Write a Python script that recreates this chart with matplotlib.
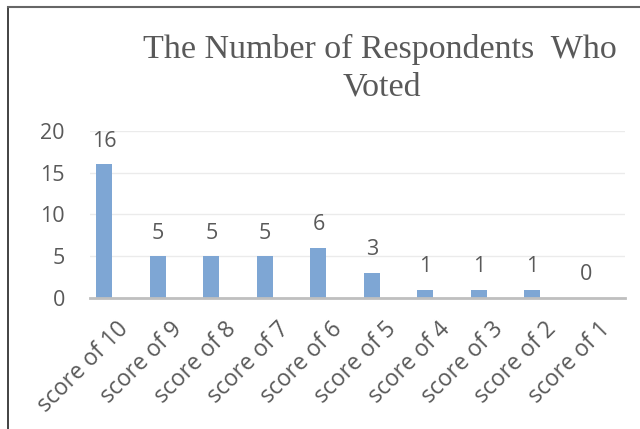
import matplotlib.pyplot as plt
import numpy as np

# votes per score
categories = ['score of 10', 'score of 9', 'score of 8', 'score of 7', 'score of 6',
              'score of 5', 'score of 4', 'score of 3', 'score of 2', 'score of 1']
votes = [16, 5, 5, 5, 6, 3, 1, 1, 1, 0]
y_ticks = [0, 5, 10, 15, 20]

text_gray = '#595959'
bar_color = '#7ea6d4'

fig = plt.figure(figsize=(6.4, 4.29), dpi=100)
ax = fig.add_axes([0.1406, 0.3054, 0.8359, 0.3892])

x = np.arange(len(categories))
# bars sit left of the category centre (clustered layout, second slot empty)
bar_x = x - 0.23
bars = ax.bar(bar_x, votes, width=0.3, color=bar_color, zorder=3)

for bx, v in zip(bar_x, votes):
    ax.annotate(str(v), (bx, v), xytext=(0, 9), textcoords='offset points',
                ha='center', va='bottom', fontsize=15.5, color=text_gray,
                family='Open Sans')

ax.set_xlim(-0.5, len(categories) - 0.5)
ax.set_ylim(0, 20)
ax.set_yticks(y_ticks)
ax.set_xticks(x)
ax.set_xticklabels(categories, rotation=45, ha='right', rotation_mode='anchor',
                   fontsize=16.5, color=text_gray, family='Open Sans')
for lbl in ax.get_yticklabels():
    lbl.set_fontsize(15.5)
    lbl.set_color(text_gray)
    lbl.set_family('Open Sans')

ax.grid(axis='y', color='#ebebeb', linewidth=1, zorder=0)
ax.tick_params(axis='y', length=0, pad=18)
ax.tick_params(axis='x', length=0, pad=14)
for side in ['top', 'right', 'left']:
    ax.spines[side].set_visible(False)
ax.spines['bottom'].set_color('#bfbfbf')
ax.spines['bottom'].set_linewidth(2)
ax.spines['bottom'].set_zorder(4)

title_kw = dict(ha='center', va='baseline', fontsize=24.5, color=text_gray,
                family='Liberation Serif')
fig.text(0.594, 1 - 58 / 429, 'The Number of Respondents  Who', **title_kw)
fig.text(0.596, 1 - 96 / 429, 'Voted', **title_kw)

# frame lines on the left and top edges
fig.add_artist(plt.Line2D([0.0125, 0.0125], [0, 0.984], color='#222222', linewidth=1.2))
fig.add_artist(plt.Line2D([0.0125, 1.0], [0.984, 0.984], color='#666666', linewidth=1.5))

fig.savefig('out.png', dpi=100)
